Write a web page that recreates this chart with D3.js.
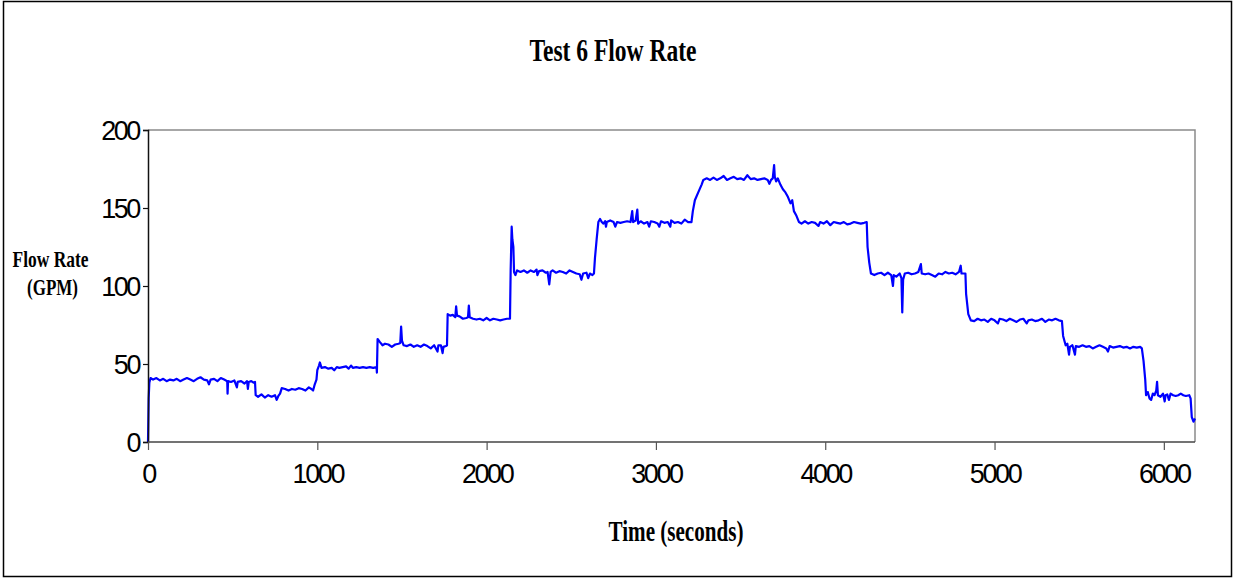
<!DOCTYPE html>
<html>
<head>
<meta charset="utf-8">
<script src="https://cdn.jsdelivr.net/npm/d3@7/dist/d3.min.js"></script>
<style>
  html, body { margin: 0; padding: 0; background: #fff; }
  svg { display: block; }
</style>
</head>
<body>
<svg id="chart" width="1233" height="579"></svg>
<script>
// ---- data ----
const chartTitle = "Test 6 Flow Rate";
const xTitle = "Time (seconds)";
const yTitleLines = ["Flow Rate", "(GPM)"];
const yTicks = [0, 50, 100, 150, 200];
const xTicks = [0, 1000, 2000, 3000, 4000, 5000, 6000];
const xMax = 6184;
const yMax = 200;

// [time (s), flow (GPM)]
const flowSamples = [
  [0,0],[4,28],[8,38],[15,41],[30,40],[50,41],[70,39.5],[90,40.5],[110,39],[130,40],[150,39.5],[170,40.5],
  [190,39],[210,40],[230,41],[250,40],[270,39],[290,40.5],[310,41.5],[330,40],[350,39.5],[360,37],[370,40],
  [390,40.5],[410,39],[430,41],[450,40],[468,39],[470,31],[473,39],[490,38.5],[510,39.5],[525,35],[530,38.5],
  [550,39],[570,37.5],[585,39],[590,34],[595,38.5],[610,39],[625,38],[632,38.5],[636,30],[650,29],[670,30.5],
  [690,28.5],[710,30],[730,29],[750,30],[760,27],[770,29.5],[780,31],[790,34.5],[810,34],[830,33],[850,34],
  [870,33.5],[890,34.5],[910,34],[930,33],[950,35],[965,34],[975,33],[985,37],[995,40],[1000,46],[1010,49],
  [1015,51],[1025,47.5],[1045,48],[1065,47],[1085,47.5],[1100,46],[1115,48],[1130,47.5],[1150,48],[1170,48.5],
  [1185,47],[1200,49],[1210,47.5],[1230,48],[1250,47.5],[1270,48],[1290,47.5],[1310,48],[1330,47.5],[1350,48],
  [1352,44.5],[1356,66],[1370,64],[1385,62],[1400,63],[1420,62.5],[1440,61],[1460,62.5],[1480,63],[1490,63.5],
  [1495,74],[1500,65],[1510,62],[1530,61.5],[1550,62.5],[1570,61],[1590,62],[1610,61],[1630,62.5],[1650,61.5],
  [1670,60],[1690,62],[1710,58],[1715,62],[1730,62],[1740,57],[1745,61],[1760,61.5],[1766,62],[1770,82],
  [1785,81],[1800,81.5],[1815,80],[1820,87],[1825,81],[1840,80.5],[1860,79],[1880,79.5],[1890,80],[1895,87.5],
  [1900,80],[1920,79],[1940,78.5],[1960,79],[1980,78],[2000,79.5],[2020,78],[2040,79],[2060,78.5],[2080,78],
  [2100,78.5],[2120,79],[2138,79],[2142,110],[2148,138],[2152,130],[2158,125],[2162,109],[2170,107],[2180,110],
  [2200,109],[2220,110],[2240,108.5],[2260,110],[2280,109],[2295,110.5],[2300,107],[2310,109.5],[2330,110],
  [2350,108.5],[2360,109],[2370,101],[2378,109],[2390,110],[2410,108.5],[2430,109.5],[2450,109],[2470,108],
  [2490,110],[2510,109],[2530,108],[2550,107.5],[2560,104],[2570,108],[2590,108.5],[2600,105],[2610,108],
  [2625,107],[2634,108],[2640,118],[2650,130],[2660,141],[2670,143],[2680,141],[2690,140],[2700,141.5],
  [2705,138],[2710,141],[2730,142],[2750,141],[2760,138],[2770,141],[2790,140.5],[2810,141],[2830,141.5],
  [2850,141],[2860,148],[2865,141],[2880,142],[2890,149],[2895,140],[2910,141.5],[2930,140],[2950,141],
  [2960,138],[2970,141.5],[2990,141],[3010,140],[3020,138],[3030,141.5],[3050,140.5],[3070,141],[3085,138],
  [3090,142],[3110,140.5],[3130,141],[3150,140],[3170,142.5],[3190,141],[3210,141],[3218,148],[3230,155],
  [3250,160],[3270,165],[3280,168],[3300,169],[3320,168],[3340,169.5],[3360,168],[3380,169],[3400,170.5],
  [3420,168],[3440,169],[3460,170],[3480,168.5],[3500,169],[3520,168],[3540,171],[3560,168.5],[3580,169],
  [3600,168],[3620,168.5],[3640,169],[3660,168],[3670,165.5],[3680,168],[3690,169],[3698,177.5],[3702,170],
  [3710,167],[3720,169],[3735,165],[3750,162],[3765,160],[3780,157],[3795,153],[3805,155],[3815,148],
  [3830,145],[3845,141],[3860,140],[3880,141.5],[3900,140],[3920,141],[3940,140.5],[3960,138.5],[3970,141],
  [3990,140],[4010,141.5],[4030,139],[4050,141],[4070,140.5],[4090,140],[4110,141],[4130,139.5],[4150,140],
  [4170,141],[4190,140.5],[4210,140],[4230,140.5],[4245,141],[4250,125],[4260,115],[4270,108],[4290,107],
  [4310,108],[4330,108.5],[4350,107],[4370,108.5],[4390,107],[4400,100],[4405,107],[4420,106],[4440,108],
  [4450,105],[4455,83],[4460,104],[4470,108],[4490,108.5],[4510,107.5],[4530,108],[4550,109],[4565,114],
  [4570,108],[4590,107.5],[4610,108],[4630,107],[4650,106],[4670,108],[4690,107.5],[4710,109],[4730,108],
  [4750,108.5],[4770,107.5],[4790,109],[4800,113],[4805,108],[4820,108],[4828,108],[4832,95],[4845,82],
  [4860,78],[4880,77.5],[4900,79],[4920,78],[4940,78.5],[4960,77],[4980,79],[5000,78],[5020,76],[5030,79],
  [5050,78.5],[5070,77.5],[5090,79],[5110,78],[5130,77],[5150,78.5],[5170,79],[5190,76],[5200,78],[5220,78.5],
  [5240,77.5],[5260,78],[5280,79],[5300,77],[5320,78.5],[5340,78],[5360,79],[5380,78],[5398,77.5],[5405,68],
  [5420,62],[5430,63],[5440,56],[5445,61],[5460,62],[5475,56],[5480,61.5],[5500,61],[5520,62],[5540,61],
  [5560,61.5],[5580,60],[5600,61],[5620,62],[5640,61],[5660,60],[5670,58],[5680,61.5],[5700,60.5],[5720,61],
  [5740,61.5],[5760,60.5],[5780,61],[5800,60],[5820,61],[5840,60.5],[5860,61],[5870,60],[5880,52],[5890,40],
  [5895,30],[5905,32],[5915,28],[5925,27],[5935,31],[5945,30],[5955,33],[5960,38.5],[5965,30],[5980,29],
  [5995,31],[6005,26],[6010,30],[6020,30.5],[6030,27],[6040,31],[6055,30],[6070,29.5],[6085,30],[6100,31],
  [6115,30],[6130,29.5],[6150,30],[6158,28],[6165,16],[6175,13],[6184,15]
];

// ---- layout ----
const svg = d3.select("#chart");
const W = 1233, H = 579;
const plot = { left: 148, top: 130, right: 1195, bottom: 442 };

// outer frame
svg.append("rect")
  .attr("x", 3.5).attr("y", 1.5)
  .attr("width", W - 5).attr("height", H - 4)
  .attr("fill", "none").attr("stroke", "#000").attr("stroke-width", 1.5);

const x = d3.scaleLinear().domain([0, xMax]).range([plot.left, plot.right]);
const y = d3.scaleLinear().domain([0, yMax]).range([plot.bottom, plot.top]);

// plot border (top + right gray)
svg.append("path")
  .attr("d", `M${plot.left},${plot.top}H${plot.right}V${plot.bottom}`)
  .attr("fill", "none").attr("stroke", "#8a8a8a").attr("stroke-width", 1.5);

// line
const line = d3.line().x(d => x(d[0])).y(d => y(d[1]));
svg.append("path")
  .datum(flowSamples)
  .attr("d", line)
  .attr("fill", "none")
  .attr("stroke", "#0000ff")
  .attr("stroke-width", 2.2)
  .attr("stroke-linejoin", "round");

// axes
const yAxis = svg.append("g")
  .attr("transform", `translate(${plot.left},0)`)
  .call(d3.axisLeft(y).tickValues(yTicks).tickSize(5).tickPadding(6).tickFormat(d3.format("d")));
const xAxis = svg.append("g")
  .attr("transform", `translate(0,${plot.bottom})`)
  .call(d3.axisBottom(x).tickValues(xTicks).tickSize(8).tickPadding(14).tickFormat(d3.format("d")));

yAxis.select(".domain").attr("stroke", "#111").attr("stroke-width", 1.5);
yAxis.selectAll(".tick line").attr("stroke", "#111").attr("stroke-width", 1.2);
xAxis.select(".domain").attr("stroke", "#444").attr("stroke-width", 1.5).attr("d", `M${plot.left},0H${plot.right}`);
xAxis.selectAll(".tick line").attr("stroke", "#555").attr("stroke-width", 1.2);

svg.selectAll(".tick text")
  .attr("font-family", "'Liberation Sans', Arial, sans-serif")
  .attr("font-size", 27)
  .attr("letter-spacing", "-2.4px")
  .attr("fill", "#000");
yAxis.selectAll(".tick text").attr("dy", "0.36em").attr("x", -9);
xAxis.selectAll(".tick text").attr("dy", "0.72em");

// titles
const serif = "'Liberation Serif', 'Times New Roman', serif";
svg.append("text")
  .attr("x", 613).attr("y", 61)
  .attr("text-anchor", "middle")
  .attr("font-family", serif).attr("font-weight", "bold").attr("font-size", 32)
  .attr("textLength", 167).attr("lengthAdjust", "spacingAndGlyphs")
  .text(chartTitle);

svg.append("text")
  .attr("x", 676).attr("y", 541)
  .attr("text-anchor", "middle")
  .attr("font-family", serif).attr("font-weight", "bold").attr("font-size", 29)
  .attr("textLength", 135).attr("lengthAdjust", "spacingAndGlyphs")
  .text(xTitle);

svg.append("text")
  .attr("x", 50.5).attr("y", 267)
  .attr("text-anchor", "middle")
  .attr("font-family", serif).attr("font-weight", "bold").attr("font-size", 23)
  .attr("textLength", 76).attr("lengthAdjust", "spacingAndGlyphs")
  .text(yTitleLines[0]);
svg.append("text")
  .attr("x", 52.5).attr("y", 295)
  .attr("text-anchor", "middle")
  .attr("font-family", serif).attr("font-weight", "bold").attr("font-size", 23)
  .attr("textLength", 51).attr("lengthAdjust", "spacingAndGlyphs")
  .text(yTitleLines[1]);
</script>
</body>
</html>
